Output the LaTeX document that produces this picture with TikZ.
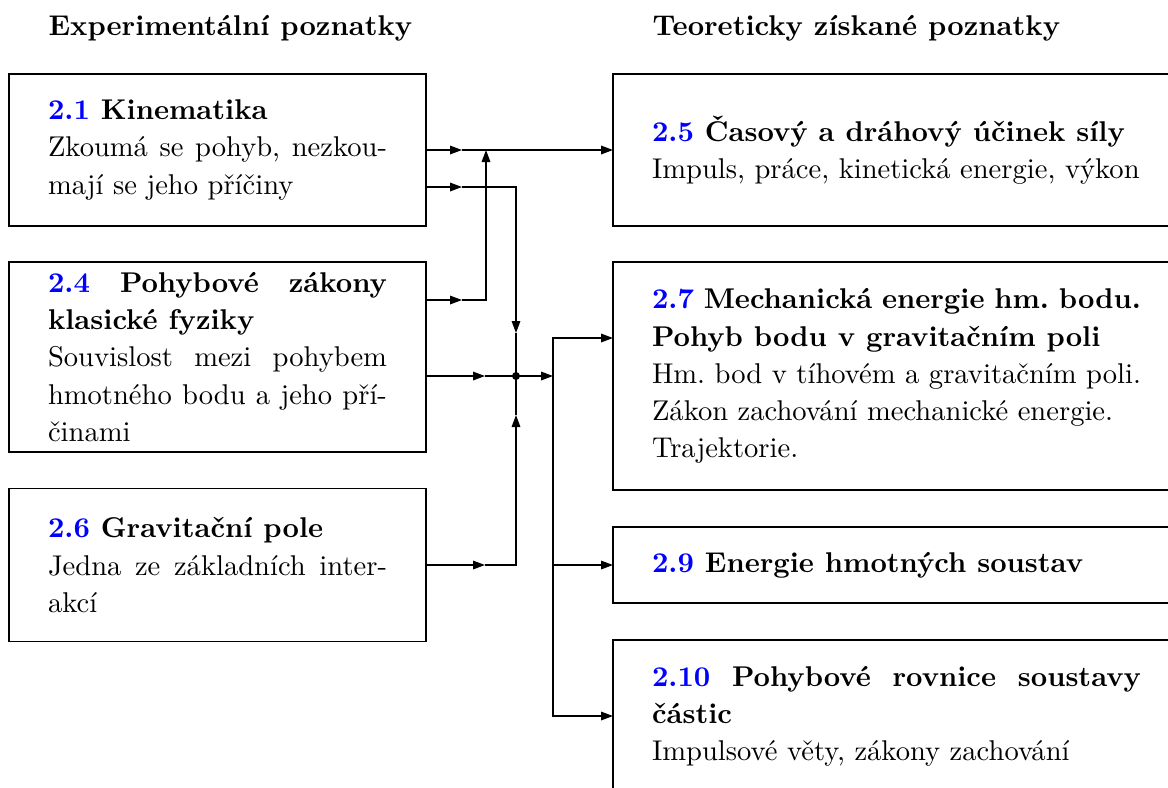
\documentclass[tikz,border=0pt]{standalone}
\usetikzlibrary{arrows.meta,calc}
\begin{document}
\frenchspacing
\begin{tikzpicture}[x=0.35pt,y=-0.35pt,
  box/.style={draw, line width=0.5pt, rectangle, inner xsep=13.65pt, inner ysep=0pt, outer sep=0pt, align=justify, font=\fontsize{10}{13}\selectfont},
  lbox/.style={box, text width=118.65pt},
  rbox/.style={box, text width=171.15pt},
  arr/.style={-{Triangle[length=4.2pt,width=3pt]}, line width=0.5pt},
  lin/.style={line width=0.5pt},
  head/.style={anchor=base west, inner sep=0pt, font=\fontsize{10}{13}\selectfont\bfseries}]
\useasboundingbox (0,0) rectangle (1168,787);
\clip (0,0) rectangle (1168,787);
% headings
\node[head] (h1) at (48,35) {Experimentální poznatky};
\node[head] (h2) at (652,35) {Teoreticky získané poznatky};
% left boxes
\node[lbox, minimum height=53.2pt] (L1) at (217.5,150) {\textbf{\textcolor{blue}{2.1} Kinematika}\\Zkoumá se pohyb, nezkou-\linebreak mají se jeho příčiny};
\node[lbox, minimum height=66.5pt] (L2) at (217.5,357) {\textbf{\textcolor{blue}{2.4} Pohybové zákony\linebreak klasické fyziky}\\Souvislost mezi pohybem\linebreak hmotného bodu a jeho pří-\linebreak činami};
\node[lbox, minimum height=53.6pt] (L3) at (217.5,565) {\textbf{\textcolor{blue}{2.6} Gravitační pole}\\Jedna ze základních inter-\linebreak akcí};
% right boxes
\node[rbox, minimum height=53.2pt] (R1) at (896.5,150) {\textbf{\textcolor{blue}{2.5} Časový a dráhový účinek síly}\\Impuls, práce, kinetická energie, výkon};
\node[rbox, minimum height=79.8pt] (R2) at (896.5,376) {{\bfseries\textcolor{blue}{2.7} Mechanická energie hm. bodu.}\\{\bfseries Pohyb bodu v gravitačním poli}\\Hm. bod v tíhovém a gravitačním poli.\\Zákon zachování mechanické energie.\\Trajektorie.};
\node[rbox, minimum height=26.6pt] (R3) at (896.5,565) {\textbf{\textcolor{blue}{2.9} Energie hmotných soustav}};
\node[rbox, minimum height=53.2pt] (R4) at (896.5,716) {\textbf{\textcolor{blue}{2.10} Pohybové rovnice soustavy\linebreak částic}\\Impulsové věty, zákony zachování};
% junction points
\coordinate (j) at (516,376);
\coordinate (v) at (553,376);
\coordinate (m1) at (486,150);
% row from 2.1 to 2.5
\draw[arr] (L1.east) -- ++(36,0) coordinate (a1);
\draw[arr] (a1) -- (R1.west);
% second row from 2.1 down to junction
\draw[arr] ($(L1.east)+(0,37)$) coordinate (b0) -- ++(36,0) coordinate (b1);
\draw[arr] (b1) -| ($(j)+(0,-43)$) coordinate (b2);
\draw[lin] (b2) -- (j);
% from 2.4 up to first row
\draw[arr] ($(L2.east)+(0,-57)$) coordinate (c0) -- ++(36,0) coordinate (c1);
\draw[arr] (c1) -| (m1);
% from 2.4 to junction
\draw[arr] ($(L2.east)+(0,19)$) coordinate (d0) -- ++(59,0) coordinate (d1);
\draw[lin] (d1) -- (j);
% from 2.6 up to junction
\draw[arr] (L3.east) -- ++(59,0) coordinate (e1);
\draw[arr] (e1) -| ($(j)+(0,39)$) coordinate (e2);
\draw[lin] (e2) -- (j);
% junction dot and output
\fill (j) circle[radius=1.4pt];
\draw[arr] (j) -- (v);
% distribution to right boxes
\draw[arr] (v) |- ($(R2.west)+(0,-38)$);
\draw[arr] (v) |- (R3.west);
\draw[arr] (v) |- (R4.west);
\end{tikzpicture}
\end{document}
